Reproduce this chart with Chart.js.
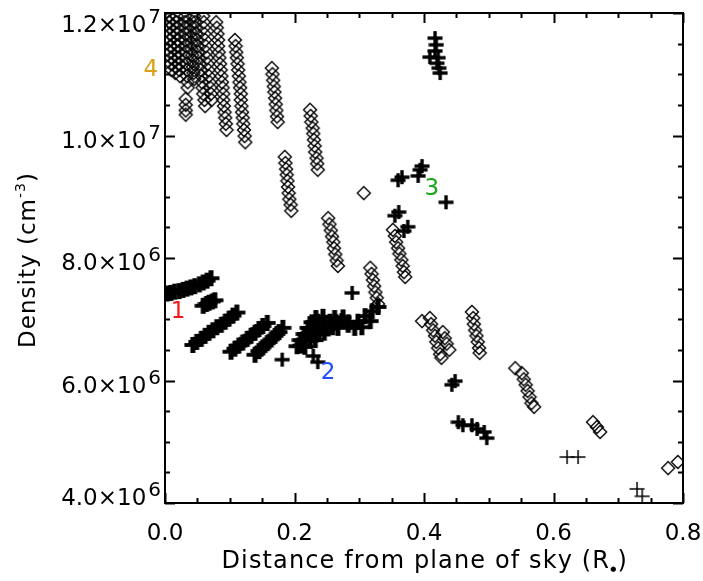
<!DOCTYPE html>
<html>
<head>
<meta charset="utf-8">
<script src="https://cdn.jsdelivr.net/npm/chart.js@4/dist/chart.umd.min.js"></script>
<style>
  body { margin: 0; background: #fff; }
  canvas { display: block; }
</style>
</head>
<body>
<canvas id="chart" width="703" height="581"></canvas>
<script>
// values: [distance (R_sun), density (1e6 cm^-3)]
const diamondCol1a = [[0.006,11.95],[0.006,11.85],[0.007,11.76],[0.007,11.66],[0.007,11.56],[0.008,11.46],[0.008,11.36],[0.009,11.27],[0.009,11.17],[0.010,11.07]];
const diamondCol1c = [[0.012,11.90],[0.012,11.80],[0.013,11.71],[0.013,11.61],[0.014,11.51],[0.014,11.41],[0.015,11.31],[0.015,11.22],[0.016,11.12],[0.016,11.02]];
const diamondCol1b = [[0.018,11.95],[0.018,11.85],[0.019,11.76],[0.019,11.66],[0.020,11.56],[0.020,11.46],[0.021,11.36],[0.021,11.27],[0.022,11.17],[0.022,11.07],[0.023,10.97]];
const diamondCol2 = [[0.031,11.95],[0.031,11.85],[0.032,11.76],[0.032,11.66],[0.032,11.56],[0.033,11.46],[0.033,11.36],[0.033,11.27],[0.034,11.17],[0.034,11.07],[0.034,10.97],[0.035,10.87],[0.035,10.78]];
const diamondCol2b = [[0.038,11.90],[0.039,11.80],[0.039,11.71],[0.040,11.61],[0.041,11.51],[0.041,11.41],[0.042,11.31],[0.043,11.22],[0.043,11.12],[0.044,11.02],[0.045,10.92]];
const diamondCol2Low = [[0.032,10.60],[0.032,10.50],[0.032,10.41],[0.032,10.34]];
const diamondCol3 = [[0.045,11.95],[0.046,11.85],[0.047,11.76],[0.048,11.66],[0.049,11.56],[0.050,11.46],[0.051,11.36],[0.052,11.27],[0.053,11.17],[0.055,11.07],[0.056,10.97],[0.057,10.87],[0.058,10.78],[0.059,10.68],[0.061,10.58],[0.062,10.48]];
const diamondCol3b = [[0.059,11.95],[0.060,11.85],[0.060,11.76],[0.061,11.66],[0.062,11.56],[0.063,11.46],[0.064,11.36],[0.065,11.27],[0.066,11.17],[0.067,11.07],[0.068,10.97],[0.069,10.87],[0.070,10.78],[0.071,10.68],[0.072,10.58]];
const diamondCol4 = [[0.079,11.85],[0.080,11.76],[0.081,11.66],[0.082,11.56],[0.082,11.46],[0.083,11.36],[0.084,11.27],[0.085,11.17],[0.086,11.07],[0.087,10.97],[0.088,10.87],[0.089,10.78],[0.090,10.68],[0.090,10.58],[0.091,10.48],[0.092,10.38],[0.093,10.29],[0.094,10.19],[0.095,10.09]];
const diamondCol5 = [[0.108,11.56],[0.109,11.46],[0.110,11.36],[0.111,11.27],[0.112,11.17],[0.113,11.07],[0.114,10.97],[0.115,10.87],[0.116,10.78],[0.117,10.68],[0.117,10.58],[0.118,10.48],[0.119,10.38],[0.120,10.29],[0.121,10.19],[0.122,10.09],[0.123,9.99],[0.124,9.89]];
const diamondCol6 = [[0.165,11.10],[0.166,11.00],[0.167,10.90],[0.168,10.80],[0.169,10.71],[0.170,10.61],[0.171,10.51],[0.172,10.41],[0.173,10.31],[0.174,10.22]];
const diamondCol7 = [[0.224,10.42],[0.225,10.32],[0.226,10.22],[0.228,10.12],[0.229,10.03],[0.230,9.93],[0.231,9.83],[0.232,9.73],[0.234,9.63],[0.235,9.54],[0.236,9.44]];
const diamondCol8 = [[0.185,9.65],[0.186,9.55],[0.187,9.45],[0.188,9.36],[0.189,9.26],[0.190,9.16],[0.191,9.06],[0.192,8.96],[0.194,8.87],[0.195,8.77]];
const diamondCol9 = [[0.252,8.65],[0.254,8.55],[0.256,8.45],[0.258,8.35],[0.260,8.26],[0.261,8.16],[0.263,8.06],[0.265,7.96],[0.267,7.87]];
const diamondCol10 = [[0.352,8.46],[0.355,8.36],[0.357,8.26],[0.360,8.16],[0.362,8.07],[0.365,7.97],[0.367,7.87],[0.369,7.77],[0.371,7.69]];
const diamondCol11 = [[0.317,7.84],[0.319,7.74],[0.321,7.64],[0.323,7.54],[0.325,7.44],[0.327,7.35],[0.329,7.25]];
const diamondCol12 = [[0.409,7.02],[0.411,6.92],[0.414,6.82],[0.417,6.73],[0.419,6.63],[0.422,6.53],[0.425,6.43],[0.427,6.37]];
const diamondCol13 = [[0.429,6.79],[0.432,6.69],[0.435,6.60],[0.439,6.50]];
const diamondCol14 = [[0.474,7.12],[0.476,7.02],[0.477,6.92],[0.479,6.82],[0.481,6.73],[0.483,6.63],[0.485,6.53],[0.486,6.45]];
const diamondCol15 = [[0.551,6.12],[0.554,6.02],[0.557,5.93],[0.560,5.83],[0.563,5.73],[0.566,5.63],[0.570,5.57]];
const diamondCol16 = [[0.661,5.32],[0.667,5.24],[0.672,5.16]];
const diamondEdge = [[0.777,4.57],[0.792,4.67]];
const diamondSingles = [[0.307,9.06],[0.397,6.97],[0.541,6.20]];

// dense crosses that merge into solid bands
const crossBand1 = [[0.003,7.42],[0.009,7.43],[0.015,7.45],[0.022,7.46],[0.028,7.48],[0.034,7.50],[0.040,7.52],[0.046,7.54],[0.053,7.57],[0.059,7.60],[0.065,7.63],[0.071,7.67]];
const crossBand2 = [[0.059,7.22],[0.064,7.25],[0.068,7.27],[0.073,7.29],[0.077,7.31]];
const crossBand3 = [[0.043,6.58],[0.049,6.63],[0.056,6.68],[0.062,6.73],[0.068,6.78],[0.074,6.82],[0.080,6.87],[0.087,6.91],[0.093,6.96],[0.099,7.01],[0.105,7.06],[0.111,7.11]];
const crossBand4 = [[0.102,6.47],[0.108,6.52],[0.114,6.57],[0.120,6.62],[0.127,6.68],[0.133,6.73],[0.139,6.78],[0.145,6.84],[0.151,6.89],[0.158,6.94]];
const crossBand5 = [[0.139,6.42],[0.145,6.48],[0.151,6.54],[0.158,6.61],[0.164,6.67],[0.170,6.73],[0.176,6.79],[0.182,6.86]];
const crossCluster2 = [
  [0.204,6.56],[0.210,6.57],[0.216,6.55],
  [0.209,6.66],[0.216,6.67],[0.224,6.65],[0.232,6.66],
  [0.215,6.76],[0.222,6.77],[0.230,6.75],[0.238,6.76],[0.246,6.78],
  [0.221,6.86],[0.229,6.85],[0.236,6.87],[0.244,6.86],[0.252,6.85],[0.259,6.87],[0.267,6.86],
  [0.227,6.95],[0.236,6.96],[0.246,6.94],[0.255,6.96],[0.264,6.95],[0.273,6.97],[0.283,6.95],
  [0.233,7.02],[0.244,7.04],[0.262,7.02],[0.275,7.03]
];
const crossCluster03 = [[0.283,6.91],[0.293,6.86],[0.298,6.96],[0.304,6.87],[0.309,7.05],[0.317,6.97],[0.320,7.13],[0.329,7.20]];

// single bold crosses
const crossSingles = [[0.181,6.34],[0.229,6.40],[0.236,6.30],[0.289,7.43]];
const crossNear3 = [[0.355,8.69],[0.361,8.75],[0.369,8.44],[0.375,8.51],[0.360,9.27],[0.366,9.32],[0.391,9.34],[0.394,9.44],[0.397,9.50],[0.434,8.91]];
const crossTop = [[0.417,11.59],[0.419,11.48],[0.417,11.38],[0.409,11.28],[0.422,11.27],[0.420,11.18],[0.423,11.10],[0.425,11.02]];
const crossLowRight = [[0.443,5.93],[0.448,5.99],[0.453,5.32],[0.460,5.27],[0.474,5.27],[0.482,5.21],[0.493,5.16],[0.497,5.06]];
const crossThin = [[0.621,4.75],[0.638,4.75],[0.729,4.23],[0.737,4.11]];

// axis ticks
const xTicks = [0, 0.2, 0.4, 0.6, 0.8];
const xTickLabels = ['0.0', '0.2', '0.4', '0.6', '0.8'];
const yTicks = [4e6, 6e6, 8e6, 1e7, 1.2e7];
const yTickMant = ['4.0', '6.0', '8.0', '1.0', '1.2'];
const yTickExp = ['6', '6', '6', '7', '7'];

// coloured region numbers
const regionText = ['1', '2', '3', '4'];
const regionX = [0.020, 0.252, 0.412, -0.022];
const regionY = [7.12, 6.12, 9.13, 11.07];
const regionColor = ['#f01818', '#1f4fff', '#1aa61a', '#d9a012'];

const toPoints = (...groups) => groups.flat().map(([x, y]) => ({ x, y: y * 1e6 }));

// marker images
function diamondImg() {
  const c = document.createElement('canvas');
  c.width = 16; c.height = 16;
  const g = c.getContext('2d');
  g.strokeStyle = '#000'; g.lineWidth = 1.4;
  g.beginPath();
  g.moveTo(8, 1.5); g.lineTo(14.5, 8); g.lineTo(8, 14.5); g.lineTo(1.5, 8); g.closePath();
  g.stroke();
  return c;
}
function crossImg(size, hw, vw) {
  const c = document.createElement('canvas');
  c.width = size; c.height = size;
  const g = c.getContext('2d');
  const m = size / 2;
  g.strokeStyle = '#000';
  g.lineWidth = hw;
  g.beginPath(); g.moveTo(0.5, m); g.lineTo(size - 0.5, m); g.stroke();
  g.lineWidth = vw;
  g.beginPath(); g.moveTo(m, 1); g.lineTo(m, size - 1); g.stroke();
  return c;
}

const FONT = '"DejaVu Sans", sans-serif';

// draw a run of text pieces [{t, size, dy}] centred on x and stretched to a width
function drawRun(ctx, parts, x, y, target) {
  ctx.textAlign = 'left';
  ctx.textBaseline = 'alphabetic';
  let w = 0, n = 0;
  parts.forEach(p => { ctx.font = p.size + 'px ' + FONT; w += ctx.measureText(p.t).width; n += p.t.length; });
  const sp = (target - w) / n;
  let cx = x - target / 2;
  parts.forEach(p => {
    ctx.font = p.size + 'px ' + FONT;
    for (const ch of p.t) {
      ctx.fillText(ch, cx, y + (p.dy || 0));
      cx += ctx.measureText(ch).width + sp;
    }
  });
}

const idlAxes = {
  id: 'idlAxes',
  afterDatasetsDraw(chart) {
    const { ctx, chartArea: a, scales: { x, y } } = chart;
    ctx.save();
    ctx.strokeStyle = '#000';
    ctx.fillStyle = '#000';
    ctx.lineWidth = 2;
    ctx.strokeRect(a.left, a.top, a.right - a.left, a.bottom - a.top);

    ctx.beginPath();
    for (let v = 0; v <= 0.8001; v += 0.05) {
      const px = Math.round(x.getPixelForValue(v)) + 0.5;
      const len = Math.abs(v / 0.2 - Math.round(v / 0.2)) < 1e-6 ? 10 : 5;
      ctx.moveTo(px, a.bottom); ctx.lineTo(px, a.bottom - len);
      ctx.moveTo(px, a.top); ctx.lineTo(px, a.top + len);
    }
    for (let v = 4e6; v <= 1.2e7 + 1; v += 5e5) {
      const py = Math.round(y.getPixelForValue(v)) + 0.5;
      const len = (v / 1e6) % 2 === 0 ? 10 : 5;
      ctx.moveTo(a.left, py); ctx.lineTo(a.left + len, py);
      ctx.moveTo(a.right, py); ctx.lineTo(a.right - len, py);
    }
    ctx.stroke();

    // x tick labels
    ctx.font = '23px ' + FONT;
    ctx.textAlign = 'center';
    xTicks.forEach((v, i) => ctx.fillText(xTickLabels[i], x.getPixelForValue(v), a.bottom + 37));

    // y tick labels
    yTicks.forEach((v, i) => {
      const py = y.getPixelForValue(v);
      const base = Math.min(Math.max(py + 12, a.top + 19), a.bottom + 2);
      ctx.textAlign = 'right';
      ctx.font = '20px ' + FONT;
      const ew = ctx.measureText(yTickExp[i]).width;
      ctx.fillText(yTickExp[i], a.left - 4, base - 9);
      ctx.font = '23px ' + FONT;
      ctx.fillText(yTickMant[i] + '×10', a.left - 6 - ew, base);
    });

    // axis titles
    drawRun(ctx, [
      { t: 'Distance from plane of sky (R', size: 24 },
      { t: '●', size: 7, dy: 3 },
      { t: ')', size: 24 }
    ], (a.left + a.right) / 2, a.bottom + 65, 405);

    ctx.save();
    ctx.translate(35, (a.top + a.bottom) / 2 + 2);
    ctx.rotate(-Math.PI / 2);
    drawRun(ctx, [
      { t: 'Density (cm', size: 23 },
      { t: '-3', size: 14, dy: -10 },
      { t: ')', size: 23 }
    ], 0, 0, 176);
    ctx.restore();

    // region numbers
    ctx.font = '23px ' + FONT;
    ctx.textAlign = 'center';
    ctx.textBaseline = 'middle';
    regionText.forEach((t, i) => {
      ctx.fillStyle = regionColor[i];
      ctx.fillText(t, x.getPixelForValue(regionX[i]), y.getPixelForValue(regionY[i] * 1e6));
    });
    ctx.restore();
  }
};

new Chart(document.getElementById('chart'), {
  type: 'scatter',
  data: {
    datasets: [
      {
        data: toPoints(diamondCol1a, diamondCol1c, diamondCol1b, diamondCol2, diamondCol2b, diamondCol2Low,
          diamondCol3, diamondCol3b, diamondCol4, diamondCol5, diamondCol6, diamondCol7, diamondCol8,
          diamondCol9, diamondCol10, diamondCol11, diamondCol12, diamondCol13, diamondCol14,
          diamondCol15, diamondCol16, diamondEdge, diamondSingles),
        pointStyle: diamondImg(),
        pointRadius: 7,
        clip: 0
      },
      {
        data: toPoints(crossBand1, crossBand2, crossBand3, crossBand4, crossBand5, crossCluster2, crossCluster03),
        pointStyle: crossImg(18, 3.8, 5),
        pointRadius: 8,
        clip: 0
      },
      {
        data: toPoints(crossSingles, crossNear3, crossTop, crossLowRight),
        pointStyle: crossImg(16, 3.4, 3.4),
        pointRadius: 7,
        clip: 0
      },
      {
        data: toPoints(crossThin),
        pointStyle: crossImg(16, 1.5, 1.5),
        pointRadius: 7,
        clip: 0
      }
    ]
  },
  options: {
    responsive: false,
    animation: false,
    devicePixelRatio: 1,
    events: [],
    layout: { padding: { left: 165, right: 20, top: 13, bottom: 78 } },
    plugins: { legend: { display: false }, tooltip: { enabled: false } },
    scales: {
      x: { type: 'linear', min: 0, max: 0.8, display: false },
      y: { type: 'linear', min: 4e6, max: 1.2e7, display: false }
    }
  },
  plugins: [idlAxes]
});
</script>
</body>
</html>
